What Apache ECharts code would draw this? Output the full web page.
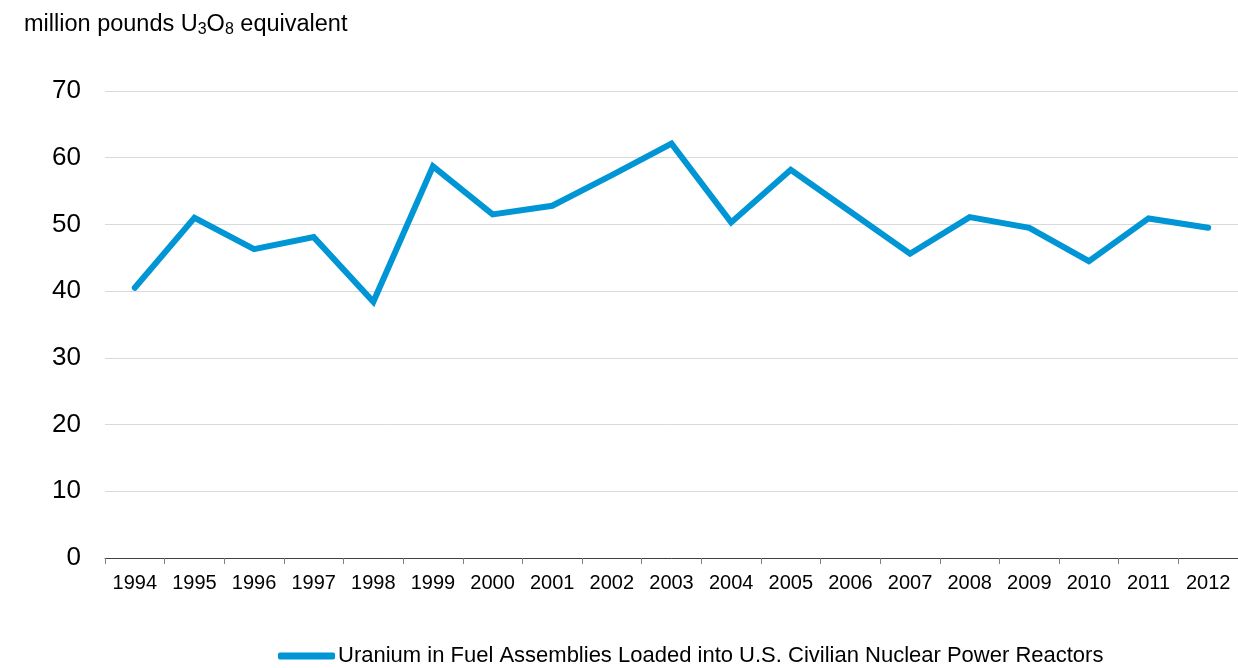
<!DOCTYPE html>
<html><head><meta charset="utf-8">
<script src="https://cdn.jsdelivr.net/npm/echarts@6/dist/echarts.min.js"></script>
<style>html,body{margin:0;padding:0;background:#fff}#c{width:1238px;height:668px}</style>
</head><body><div id="c"></div>
<script>
const years = ['1994','1995','1996','1997','1998','1999','2000','2001','2002','2003','2004','2005','2006','2007','2008','2009','2010','2011','2012'];
const uranium = [40.5,51.0,46.3,48.1,38.4,58.7,51.5,52.8,57.4,62.1,50.3,58.2,51.9,45.6,51.1,49.5,44.5,50.9,49.5];
const seriesName = 'Uranium in Fuel Assemblies Loaded into U.S. Civilian Nuclear Power Reactors';
const yTicks = {min:0, max:70, interval:10};
const font = '"Liberation Sans", Arial, sans-serif';

const chart = echarts.init(document.getElementById('c'), null, {renderer:'canvas'});
chart.setOption({
  animation:false,
  backgroundColor:'#fff',
  title:{
    text:'million pounds U{sub|3}O{sub|8} equivalent',
    left:24, top:11, padding:0,
    textStyle:{
      fontFamily:font, fontSize:23.5, fontWeight:'normal', color:'#000', lineHeight:27,
      rich:{sub:{fontFamily:font, fontSize:16, color:'#000', lineHeight:27, padding:[10,0,0,0]}}
    }
  },
  grid:{left:105, right:0, top:91, bottom:110, containLabel:false},
  legend:{
    left:278, top:645, padding:0,
    itemWidth:57, itemHeight:7, itemGap:10,
    icon:'roundRect',
    textStyle:{fontFamily:font, fontSize:22, color:'#000', padding:[0,0,0,-2]},
    data:[{name:seriesName}]
  },
  xAxis:{
    type:'category', data:years, boundaryGap:true,
    axisLine:{show:true, lineStyle:{color:'#404040', width:1}},
    axisTick:{show:true, alignWithLabel:false, length:6, lineStyle:{color:'#808080'}},
    axisLabel:{interval:0, fontFamily:font, fontSize:20, color:'#000', margin:15}
  },
  yAxis:{
    type:'value', min:yTicks.min, max:yTicks.max, interval:yTicks.interval,
    axisLine:{show:false}, axisTick:{show:false},
    axisLabel:{fontFamily:font, fontSize:26, color:'#000', margin:24},
    splitLine:{show:true, lineStyle:{color:'#d9d9d9', width:1}}
  },
  series:[{
    name:seriesName, type:'line', data:uranium,
    symbol:'none', smooth:false,
    lineStyle:{color:'#0096d6', width:6, cap:'round', join:'miter'},
    itemStyle:{color:'#0096d6'}
  }]
});
</script></body></html>
